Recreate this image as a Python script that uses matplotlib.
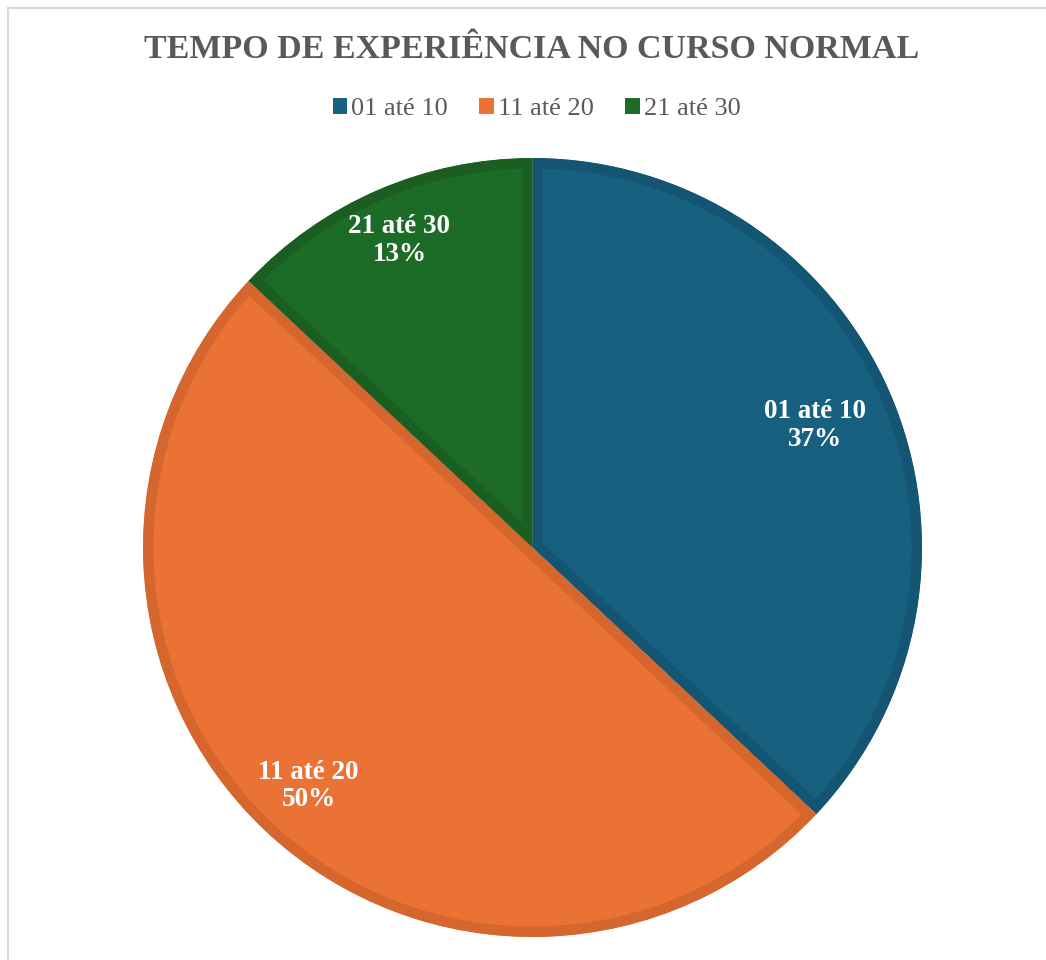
import numpy as np
import matplotlib
matplotlib.use("Agg")
import matplotlib.pyplot as plt
from matplotlib.lines import Line2D

categorias = ["01 até 10", "11 até 20", "21 até 30"]
valores = [37, 50, 13]
rotulos_pct = ["37%", "50%", "13%"]

cores = ["#176080", "#E97234", "#1C6B27"]
bordas = ["#135573", "#D4662E", "#1A5E22"]

plt.rcParams["font.family"] = ["Liberation Serif", "DejaVu Serif"]

W, H, DPI = 1046, 960, 100
fig = plt.figure(figsize=(W / DPI, H / DPI), dpi=DPI)

# moldura cinza clara (topo e esquerda visiveis)
fig.add_artist(Line2D([8 / W, 1], [1 - 8 / H, 1 - 8 / H], color="#D9D9D9", lw=1.5))
fig.add_artist(Line2D([8 / W, 8 / W], [0, 1 - 8 / H], color="#D9D9D9", lw=1.5))

cx, cy, R = 532.5, 547.5, 389.5
ax = fig.add_axes([(cx - R) / W, (H - cy - R) / H, 2 * R / W, 2 * R / H])
wedges, _ = ax.pie(valores, colors=cores, startangle=90, counterclock=False,
                   radius=1.0, wedgeprops=dict(linewidth=0))
# faixa interna mais escura em cada fatia
for w, b in zip(wedges, bordas):
    w.set_edgecolor(b)
    w.set_linewidth(15)
    w.set_clip_on(True)
    w.set_clip_path(w)
ax.set_xlim(-1, 1)
ax.set_ylim(-1, 1)
ax.axis("off")

dist = [0.79, 0.84, 0.86]
for w, cat, pct, d in zip(wedges, categorias, rotulos_pct, dist):
    ang = np.deg2rad((w.theta1 + w.theta2) / 2)
    ax.text(d * np.cos(ang), d * np.sin(ang), f"{cat}\n{pct}", ha="center", va="center",
            color="white", fontsize=19.5, fontweight="bold", linespacing=1.15)

fig.text(0.508, 1 - 50 / H, "TEMPO DE EXPERIÊNCIA NO CURSO NORMAL", ha="center", va="center",
         fontsize=24.5, fontweight="bold", color="#595959")

handles = [plt.Rectangle((0, 0), 1, 1, facecolor=c) for c in cores]
fig.legend(handles, categorias, loc="center", bbox_to_anchor=(0.513, 1 - 109 / H), ncol=3,
           frameon=False, fontsize=19, handlelength=0.55, handleheight=0.55,
           handletextpad=0.15, columnspacing=1.2, labelcolor="#595959")

fig.savefig("out.png", dpi=DPI, facecolor="white")
